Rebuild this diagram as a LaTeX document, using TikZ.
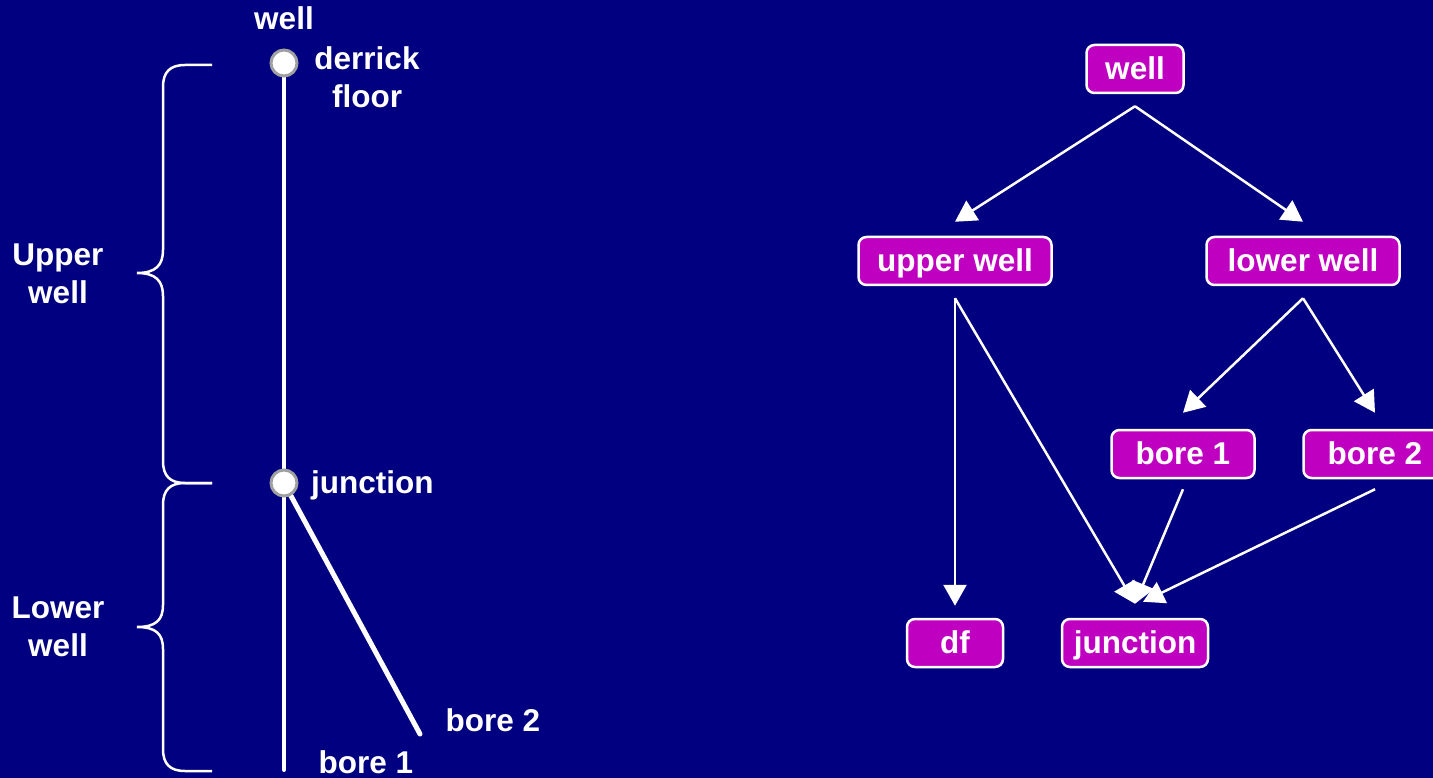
\documentclass[tikz,border=0pt]{standalone}
\usepackage{fontspec}
\setmainfont{Liberation Sans}
\usetikzlibrary{arrows.meta}
\definecolor{bgnavy}{RGB}{0,0,128}
\definecolor{boxmag}{RGB}{192,0,192}
\definecolor{ringgray}{RGB}{160,160,160}
\begin{document}
\begin{tikzpicture}[x=1pt,y=-1pt,
  txt/.style={text=white,font=\fontsize{31.5}{38}\selectfont\bfseries,inner sep=0pt},
  tbox/.style={txt,draw=white,fill=boxmag,line width=2.5pt,rounded corners=8pt,
    inner xsep=4pt,minimum height=48pt,text height=25pt,text depth=4pt},
  arr/.style={draw=white,line width=2.5pt,-{Triangle[length=21pt,width=23pt]}},
  wellline/.style={draw=white,line cap=round},
  ring/.style={circle,fill=white,draw=ringgray,line width=3pt,minimum size=26pt,inner sep=0pt},
  bracestyle/.style={draw=white,line width=2.5pt}]
\useasboundingbox[fill=bgnavy] (0,0) rectangle (1433,778);
\clip (0,0) rectangle (1433,778);
% ---------- left: well sketch ----------
\node[txt] (wellLbl) at (284,18) {well};
\coordinate (topC) at (284,63);
\coordinate (juncC) at (284,483);
\coordinate (b1end) at (284,770);
\coordinate (b2end) at (420,734);
\draw[wellline,line width=4pt] (topC) -- (b1end);
\draw[wellline,line width=5pt] (juncC) -- (b2end);
\node[ring] (topRing) at (topC) {};
\node[ring] (juncRing) at (juncC) {};
\node[txt,align=center] (dfLbl) at (367,77) {derrick\\floor};
\node[txt,anchor=west] (juncLbl) at (311,485) {junction};
\node[txt] (b2Lbl) at (493,720) {bore 2};
\node[txt] (b1Lbl) at (366,762) {bore 1};
\node[txt,align=center] (upLbl) at (58,274) {Upper\\well};
\node[txt,align=center] (loLbl) at (58,627) {Lower\\well};
% braces
\draw[bracestyle] (212,65) -- (185,65) .. controls (170,65) and (163,72) .. (163,87)
  -- (163,250) .. controls (163,265) and (156,273) .. (137,273)
  .. controls (156,273) and (163,281) .. (163,296)
  -- (163,461) .. controls (163,476) and (170,483) .. (185,483) -- (212,483);
\draw[bracestyle] (212,483) -- (185,483) .. controls (170,483) and (163,490) .. (163,505)
  -- (163,605) .. controls (163,620) and (156,627) .. (137,627)
  .. controls (156,627) and (163,634) .. (163,649)
  -- (163,749) .. controls (163,764) and (170,771) .. (185,771) -- (212,771);
% ---------- right: tree ----------
\node[tbox,minimum width=97pt] (well) at (1135,69) {well};
\node[tbox,minimum width=193pt] (upper) at (955,261) {upper well};
\node[tbox,minimum width=193pt] (lower) at (1303,261) {lower well};
\node[tbox,minimum width=143pt] (bore1) at (1183,454) {bore 1};
\node[tbox,minimum width=143pt] (bore2) at (1375,454) {bore 2};
\node[tbox,minimum width=96pt] (df) at (955,643) {df};
\node[tbox,minimum width=146pt] (junc) at (1135,643) {junction};
\draw[arr] ([yshift=-12pt]well.south) -- ([yshift=14pt]upper.north);
\draw[arr] ([yshift=-12pt]well.south) -- ([yshift=14pt]lower.north);
\draw[arr] ([yshift=-12pt]upper.south) -- ([yshift=12pt]df.north);
\draw[arr] ([yshift=-12pt]upper.south) -- ([yshift=14pt]junc.north);
\draw[arr] ([yshift=-12pt]lower.south) -- ([yshift=16pt]bore1.north);
\draw[arr] ([yshift=-12pt]lower.south) -- ([yshift=16pt]bore2.north);
\draw[arr] ([yshift=-10pt]bore1.south) -- ([yshift=14pt]junc.north);
\draw[arr] ([yshift=-10pt]bore2.south) -- ([xshift=8pt,yshift=16pt]junc.north);
\end{tikzpicture}
\end{document}
